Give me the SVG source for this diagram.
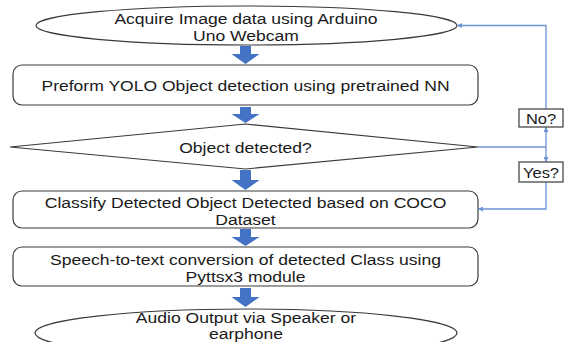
<svg xmlns="http://www.w3.org/2000/svg" width="564" height="342" viewBox="0 0 564 342">
<defs>
<style>
.node{fill:#ffffff;stroke:#3a3a3a;stroke-width:1.2}
.t{font-family:"Liberation Sans",Arial,sans-serif;font-size:15px;fill:#1a1a1a;text-anchor:middle}
.blk{fill:#4472C4}
.con{fill:none;stroke:#6a93d4;stroke-width:1.3}
.lbl{fill:#ffffff;stroke:#3a3a3a;stroke-width:1.2}
</style>
<marker id="ah" viewBox="0 0 10 10" refX="9" refY="5" markerWidth="5" markerHeight="5" orient="auto" markerUnits="userSpaceOnUse">
<path d="M0,0 L10,5 L0,10 z" fill="#6a93d4"/>
</marker>
</defs>
<rect width="564" height="342" fill="#ffffff"/>

<g id="block-arrows">
<path class="blk" d="M240,46 H251 V54 H259.5 L245.5,64 L231.5,54 H240 Z"/>
<path class="blk" d="M240,107 H251 V114 H259.5 L245.5,123 L231.5,114 H240 Z"/>
<path class="blk" d="M240,170 H251 V180 H259.5 L245.5,190 L231.5,180 H240 Z"/>
<path class="blk" d="M240,229 H251 V237 H259.5 L245.5,246 L231.5,237 H240 Z"/>
<path class="blk" d="M240,288 H251 V297 H259.5 L245.5,307 L231.5,297 H240 Z"/>
</g>

<g id="n1">
<ellipse class="node" cx="246.5" cy="25.5" rx="210.5" ry="19.5"/>
<text class="t" transform="translate(246 23.5) scale(1.17 1)">Acquire Image data using Arduino</text>
<text class="t" transform="translate(246 40.5) scale(1.17 1)">Uno Webcam</text>
</g>

<g id="n2">
<rect class="node" x="13" y="65" width="465" height="40" rx="9"/>
<text class="t" transform="translate(245.5 90.5) scale(1.17 1)">Preform YOLO Object detection using pretrained NN</text>
</g>

<g id="n3">
<polygon class="node" points="10,147 245.5,124 478,147 245.5,169"/>
<text class="t" transform="translate(245.5 152.5) scale(1.17 1)">Object detected?</text>
</g>

<g id="n4">
<rect class="node" x="13" y="191" width="465" height="37" rx="9"/>
<text class="t" transform="translate(245.5 207.5) scale(1.17 1)">Classify Detected Object Detected based on COCO</text>
<text class="t" transform="translate(245.5 224.5) scale(1.17 1)">Dataset</text>
</g>

<g id="n5">
<rect class="node" x="13" y="247" width="465" height="39" rx="9"/>
<text class="t" transform="translate(245.5 265) scale(1.17 1)">Speech-to-text conversion of detected Class using</text>
<text class="t" transform="translate(245.5 282) scale(1.17 1)">Pyttsx3 module</text>
</g>

<g id="n6">
<ellipse class="node" cx="246" cy="333" rx="211" ry="24"/>
<text class="t" transform="translate(246 322.5) scale(1.17 1)">Audio Output via Speaker or</text>
<text class="t" transform="translate(246 338.5) scale(1.17 1)">earphone</text>
</g>

<g id="connectors">
<path class="con" d="M478,147 H546"/>
<path class="con" d="M546,147 V127.5" marker-end="url(#ah)"/>
<path class="con" d="M546,147 V161.5" marker-end="url(#ah)"/>
<path class="con" d="M546,109 V25.5 H457.5" marker-end="url(#ah)"/>
<path class="con" d="M546,182 V209 H478.5" marker-end="url(#ah)"/>
</g>

<g id="label-no">
<rect class="lbl" x="519" y="109" width="44" height="18"/>
<text class="t" transform="translate(541 123.5) scale(1.1 1)">No?</text>
</g>
<g id="label-yes">
<rect class="lbl" x="519" y="162" width="44" height="20"/>
<text class="t" transform="translate(541 177.5) scale(1.1 1)">Yes?</text>
</g>
</svg>
